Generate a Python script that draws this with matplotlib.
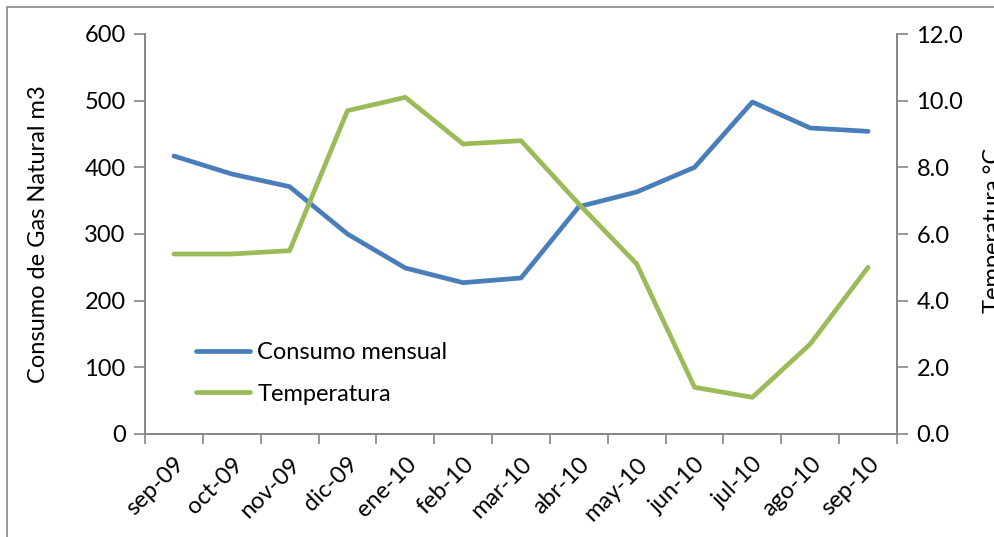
import matplotlib
matplotlib.use("Agg")
import matplotlib.pyplot as plt
from matplotlib.patches import Rectangle

# data
meses = ["sep-09", "oct-09", "nov-09", "dic-09", "ene-10", "feb-10", "mar-10",
         "abr-10", "may-10", "jun-10", "jul-10", "ago-10", "sep-10"]
consumo = [417, 390, 371, 300, 249, 227, 234, 341, 363, 400, 498, 459, 454]
temperatura = [5.4, 5.4, 5.5, 9.7, 10.1, 8.7, 8.8, 6.9, 5.1, 1.4, 1.1, 2.7, 5.0]

plt.rcParams['font.family'] = ['Lato', 'DejaVu Sans']
FS = 17
AXIS_GREY = "#868686"
BLUE = "#4A7EBB"
GREEN = "#9BBB59"

fig = plt.figure(figsize=(9.94, 5.37), dpi=100)
ax = fig.add_axes([145 / 994, 1 - 434 / 537, 752 / 994, 400 / 537])
ax2 = ax.twinx()

x = list(range(len(meses)))
l1, = ax.plot(x, consumo, color=BLUE, lw=3.4, solid_capstyle='round',
              solid_joinstyle='round', label="Consumo mensual")
l2, = ax2.plot(x, temperatura, color=GREEN, lw=3.4, solid_capstyle='round',
               solid_joinstyle='round', label="Temperatura")

ax.set_xlim(-0.5, len(meses) - 0.5)
ax.set_ylim(0, 600)
ax2.set_ylim(0, 12)
ax.set_yticks(range(0, 601, 100))
ax2.set_yticks([0, 2, 4, 6, 8, 10, 12])
ax2.set_yticklabels([f"{v:.1f}" for v in [0, 2, 4, 6, 8, 10, 12]])

# labels at category centres, tick marks at category boundaries
ax.set_xticks(x)
ax.set_xticklabels(meses, rotation=45, ha='right', rotation_mode='anchor')
ax.set_xticks([i - 0.5 for i in range(len(meses) + 1)], minor=True)
ax.tick_params(axis='x', which='major', length=0, pad=14, labelsize=FS)
ax.tick_params(axis='x', which='minor', length=7, width=1.2, color=AXIS_GREY, direction='out')
ax.tick_params(axis='y', length=8, width=1.2, color=AXIS_GREY, labelsize=FS, pad=6)
ax2.tick_params(axis='y', length=8, width=1.2, color=AXIS_GREY, labelsize=FS, pad=6)

for a in (ax, ax2):
    a.spines['top'].set_visible(False)
    for s in ('left', 'right', 'bottom'):
        a.spines[s].set_color(AXIS_GREY)
        a.spines[s].set_linewidth(1.2)

ax.set_ylabel("Consumo de Gas Natural m3", fontsize=FS, labelpad=25)
fig.text(993 / 994, 1 - 230 / 537, "Temperatura °C", rotation=90,
         ha='center', va='center', fontsize=FS)

ax.legend([l1, l2], ["Consumo mensual", "Temperatura"], loc='lower left',
          bbox_to_anchor=(0.055, 0.05), frameon=False, fontsize=FS,
          handlelength=2.3, handletextpad=0.3, labelspacing=0.85,
          borderaxespad=0)

# chart border, clipped at the right and bottom edges like the original
fig.patches.append(Rectangle((7 / 994, -0.1), 1.2, 1 - 7 / 537 + 0.1,
                             transform=fig.transFigure, fill=False,
                             edgecolor=AXIS_GREY, lw=1.2))

fig.savefig("out.png", dpi=100)
